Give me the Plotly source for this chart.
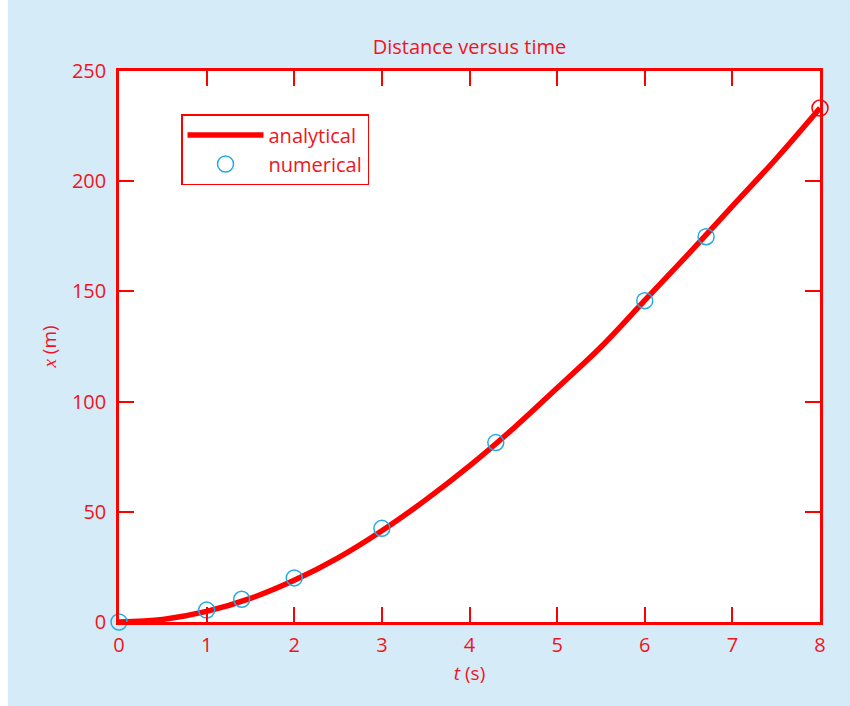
import plotly.graph_objects as go

# Analytical curve
t_analytical = [0, 0.5, 1, 1.5, 2, 2.5, 3, 3.5, 4, 4.5, 5, 5.5, 6, 6.5, 7, 7.5, 8]
x_analytical = [0, 1.2, 4.8, 10.7, 18.9, 29.1, 41.4, 55.4, 70.8, 87.8, 106.2,
                124.8, 145.9, 167.0, 188.7, 210.2, 233.2]

# Numerical points
t_numerical = [0, 1, 1.4, 2, 3, 4.3, 6, 6.7, 8]
x_numerical = [0, 5.4, 10.3, 20.0, 42.5, 81.4, 145.8, 174.8, 233.2]

x_ticks = [0, 1, 2, 3, 4, 5, 6, 7, 8]
y_ticks = [0, 50, 100, 150, 200, 250]

RED = "#ff0000"
TXT = "#f0141e"
BLUE = "#22aae6"
BG = "#d5ebf8"
FONT = "'Open Sans', sans-serif"

# figure is placed at page x=8 (body margin), y=0
W, H = 850, 706
OX = 8
ML, MR, MT, MB = 119 - OX, W - (820 - OX), 71, H - 622
pw = W - ML - MR
ph = H - MT - MB

fig = go.Figure()
fig.add_trace(go.Scatter(
    x=t_analytical, y=x_analytical, mode="lines", name="analytical",
    line=dict(color=RED, width=5.5, shape="spline"),
))
marker_colors = [BLUE] * (len(t_numerical) - 1) + [RED]
fig.add_trace(go.Scatter(
    x=t_numerical, y=x_numerical, mode="markers", name="numerical",
    marker=dict(symbol="circle-open", size=16,
                line=dict(width=1.5, color=marker_colors), color=marker_colors),
    cliponaxis=False,
))

axis_common = dict(
    showline=True, linecolor=RED, linewidth=2.5, mirror="ticks",
    ticks="inside", ticklen=15, tickwidth=1.5, tickcolor=RED,
    showgrid=False, zeroline=False,
    tickfont=dict(family=FONT, size=20, color=TXT),
)

fig.update_layout(
    width=W, height=H,
    margin=dict(l=ML, r=MR, t=MT, b=MB),
    paper_bgcolor=BG, plot_bgcolor="white",
    font=dict(family=FONT, color=TXT),
    title=dict(text="Distance versus time", x=(ML + pw / 2) / W, xanchor="center",
               y=1 - 47 / H, yanchor="middle",
               font=dict(family=FONT, size=20, color=TXT)),
    xaxis=dict(range=[0, 8], tickvals=x_ticks, ticklabelstandoff=3,
               title=dict(text="<i>t</i> (s)", standoff=10,
                          font=dict(family=FONT, size=19, color=TXT)),
               **axis_common),
    yaxis=dict(range=[0, 250], tickvals=y_ticks, ticklabelstandoff=6,
               title=dict(text="<span style=\"font-family:serif;font-style:italic\">x</span> (m)",
                          standoff=11, font=dict(family=FONT, size=19, color=TXT)),
               **axis_common),
    legend=dict(x=(181 - 119) / pw, y=(622 - 114) / ph, xanchor="left", yanchor="top",
                bgcolor="white", bordercolor=RED, borderwidth=1.5,
                font=dict(family=FONT, size=20, color=TXT),
                itemwidth=76, tracegroupgap=0),
    showlegend=True,
)

fig.write_html("out.html",
               post_script="document.body.style.margin='0px 0px 0px 8px';"
                           "document.body.style.overflow='hidden';"
                           "document.documentElement.style.overflow='hidden';")
